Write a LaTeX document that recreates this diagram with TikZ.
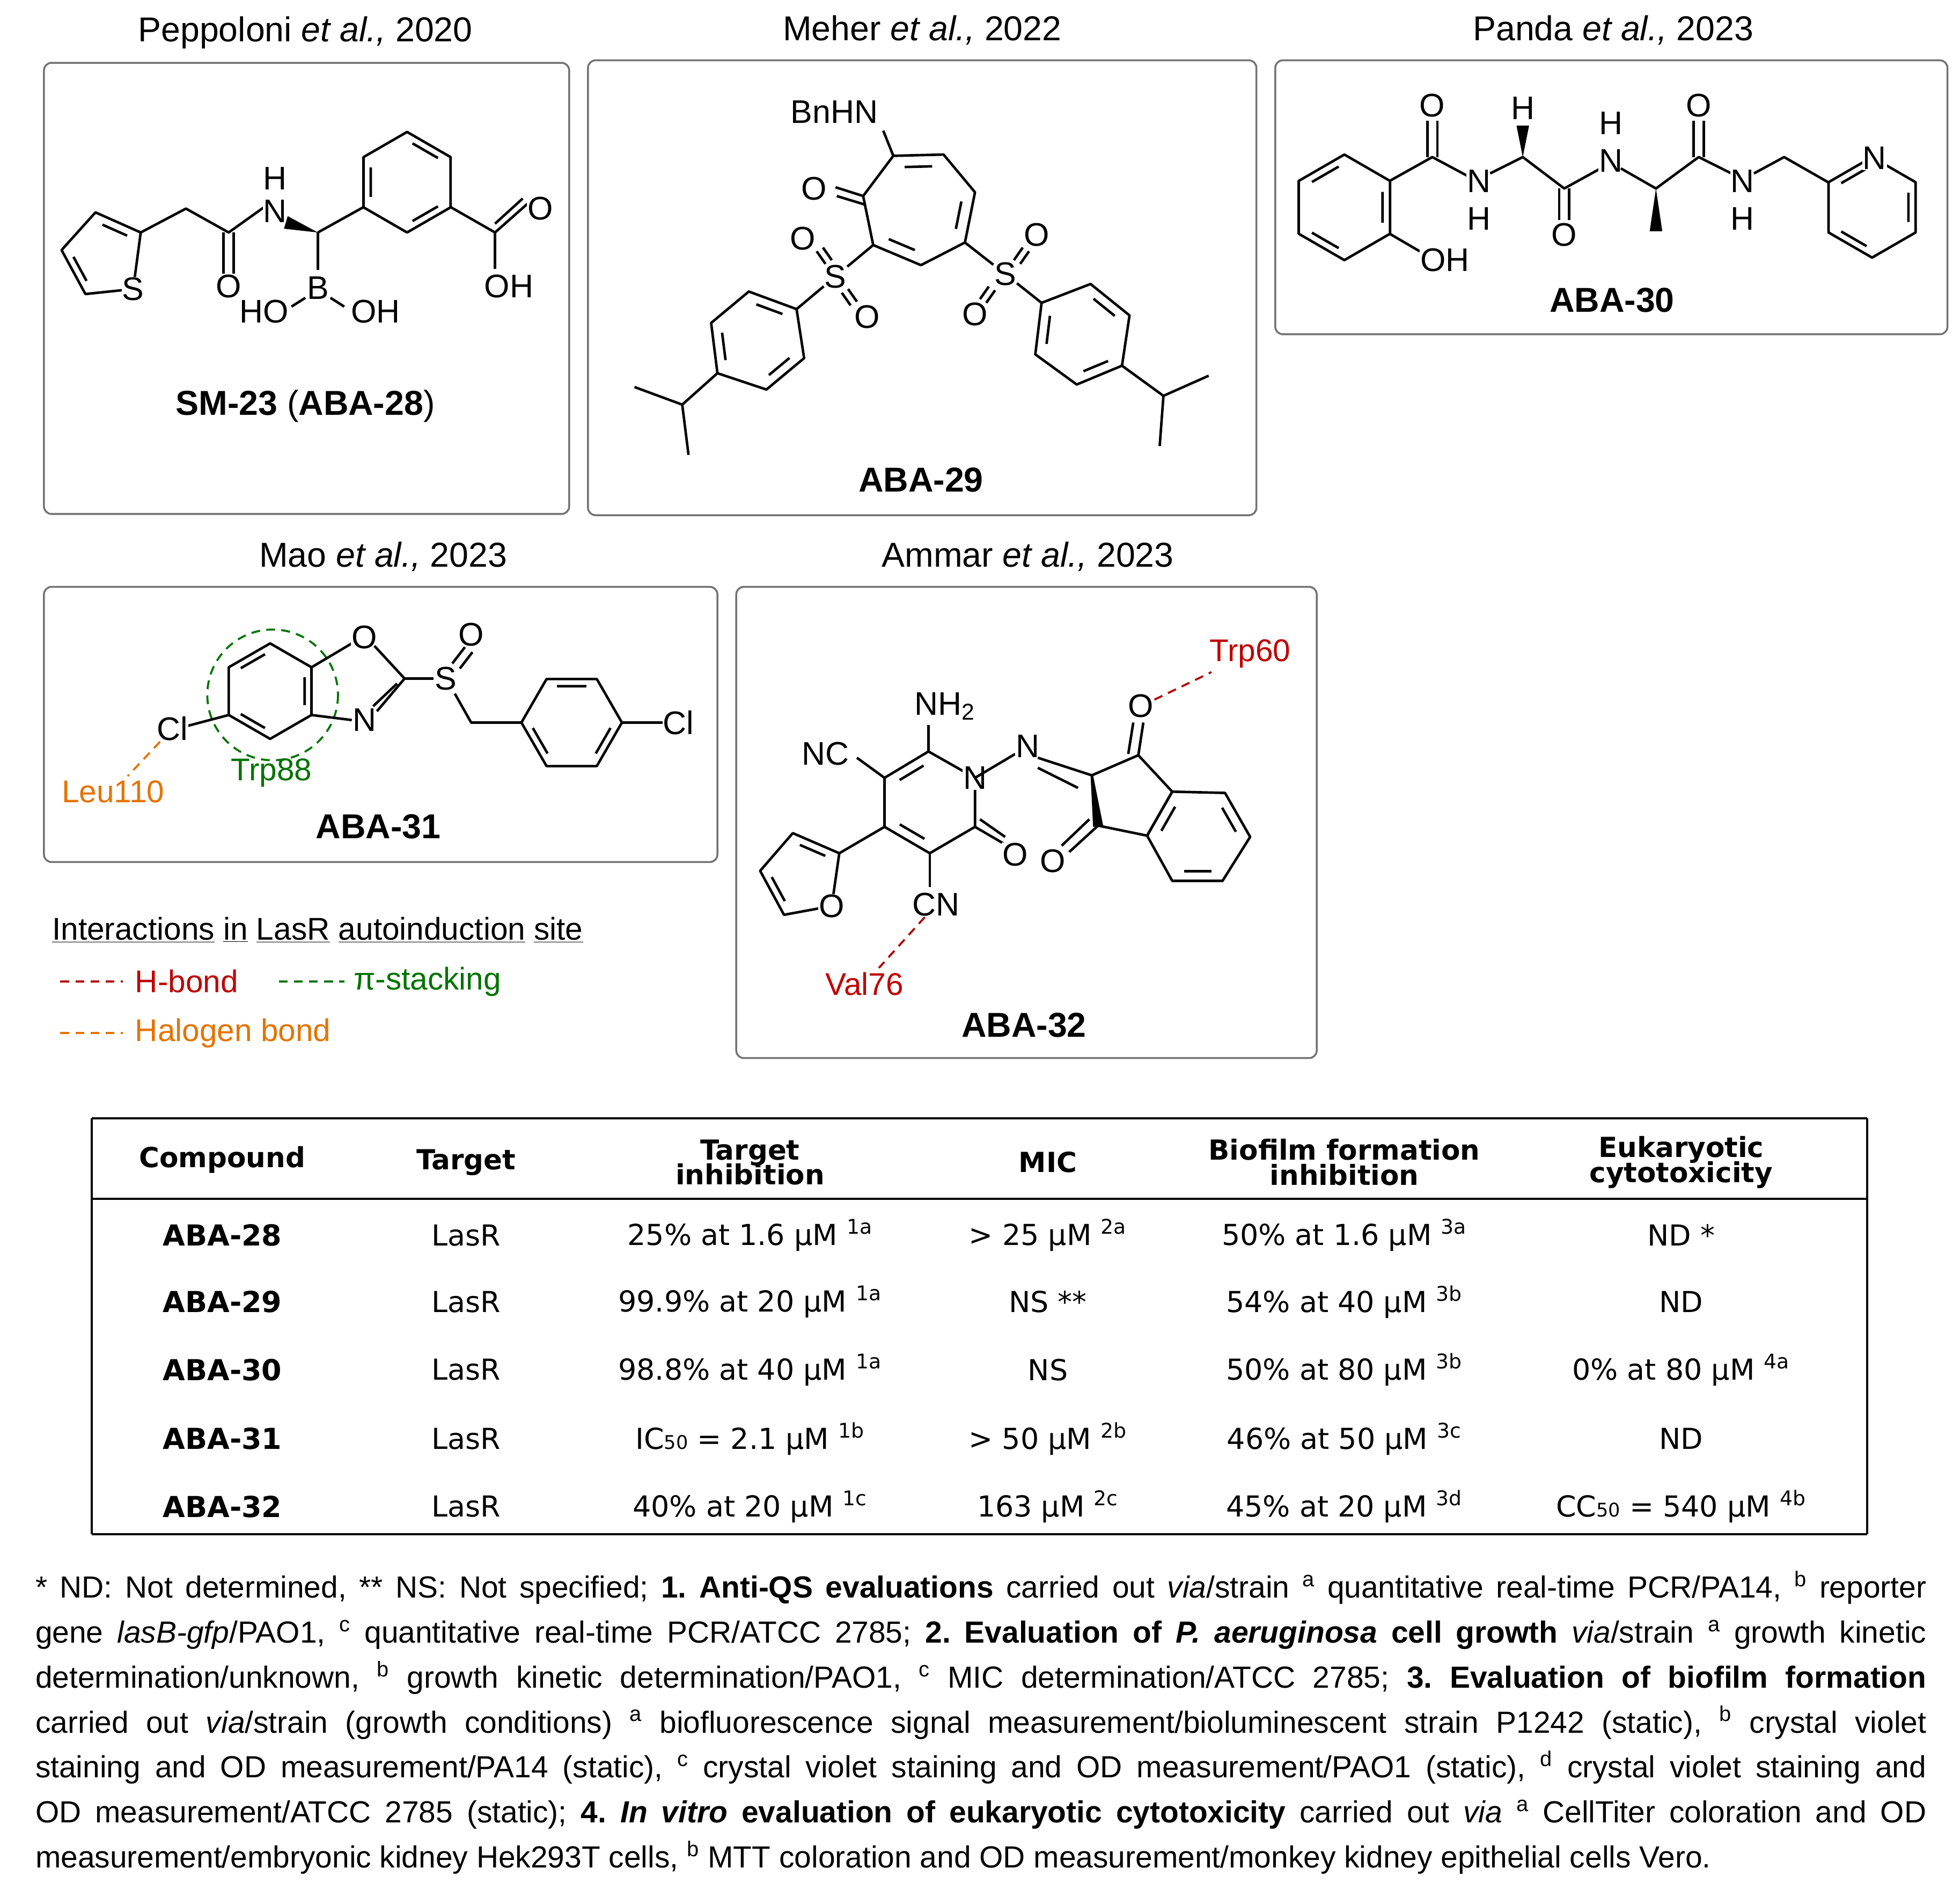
\documentclass[tikz,border=0pt]{standalone}
\usepackage{fontspec}
\setmainfont{Liberation Sans}
\newfontfamily\tabfont{DejaVu Sans}
\usetikzlibrary{calc}
\tikzset{
 box/.style={draw=black!55,line width=1.5pt,rounded corners=6pt},
 mol/.style={line width=2pt,line join=round},
 atm/.style={fill=white,inner sep=0.5pt,font=\fontsize{26}{28}\selectfont},
 ttl/.style={font=\fontsize{27.5}{30}\selectfont},
 lbl/.style={font=\fontsize{27.5}{30}\selectfont\bfseries},
 tab/.style={font=\tabfont\fontsize{23}{26}\selectfont},
 tabb/.style={font=\tabfont\bfseries\fontsize{23}{26}\selectfont},
 tabh/.style={font=\tabfont\bfseries\fontsize{22}{24}\selectfont,align=center},
 hb/.style={draw=red!70!black,dash pattern=on 7pt off 5pt,line width=1.6pt},
 hal/.style={draw=orange!90!black,dash pattern=on 7pt off 5pt,line width=1.6pt},
 pis/.style={draw=green!45!black,dash pattern=on 7pt off 5pt,line width=1.6pt},
 leg/.style={font=\fontsize{25}{28}\selectfont},
}
\newcommand\ring[5]{\draw[mol,shift={(#1,#2)}] (#5:#3) \foreach \i in {1,...,#4}{ -- ({#5+360/#4*\i}:#3)} -- cycle;}
\newcommand\benz[4]{\ring{#1}{#2}{#3}{6}{#4}
 \draw[mol,shift={(#1,#2)}] \foreach \i in {0,2,4}{({#4+60*\i+8}:{0.78*#3}) -- ({#4+60*\i+52}:{0.78*#3})};}
\newcommand\inner[3]{\draw[mol] ($(#1)!0.15!(#2)!0.22!(#3)$) -- ($(#2)!0.15!(#1)!0.22!(#3)$);}
\newcommand\sub[1]{{\fontsize{15}{15}\selectfont #1}}
\begin{document}
\begin{tikzpicture}[x=1pt,y=-1pt]
\useasboundingbox[fill=white] (0,0) rectangle (1560,1504);
% boxes and titles
\draw[box] (35,50) rectangle (453,409);
\draw[box] (468,48) rectangle (1000,410);
\draw[box] (1015,48) rectangle (1550,266);
\draw[box] (35,467) rectangle (571,686);
\draw[box] (586,467) rectangle (1048,842);
\node[ttl] (t1) at (243,26) {Peppoloni \textit{et al.,} 2020};
\node[ttl] (t2) at (734,24) {Meher \textit{et al.,} 2022};
\node[ttl] (t3) at (1284,24) {Panda \textit{et al.,} 2023};
\node[ttl] (t4) at (305,443) {Mao \textit{et al.,} 2023};
\node[ttl] (t5) at (818,443) {Ammar \textit{et al.,} 2023};

% ---- SM-23
\coordinate (tc2) at (112,185);\coordinate (tc3) at (76,169);\coordinate (tc4) at (49,199);
\coordinate (tc5) at (68,234);\coordinate (ts) at (106,230);\coordinate (tcen) at (82,205);
\draw[mol] (ts) -- (tc2) -- (tc3) -- (tc4) -- (tc5) -- (ts);
\inner{tc2}{tc3}{tcen}\inner{tc4}{tc5}{tcen}
\node[atm] (s1) at (ts) {S};
\draw[mol] (tc2) -- (148,166) -- (182,185) -- (210,165);
\draw[mol] (178,185) -- (178,218);\draw[mol] (186,185) -- (186,218);
\node[atm] (o1) at (182,228) {O};
\node[atm] (n1) at (219,168) {N};
\node[atm] (h1) at (219,142) {H};
\fill (229,172) -- (226,182) -- (253,185) -- cycle;
\draw[mol] (253,185) -- (289,165);
\draw[mol] (253,185) -- (253,215);
\node[atm] (b1) at (253,229) {B};
\draw[mol] (243,237) -- (232,244);
\draw[mol] (263,237) -- (274,244);
\node[atm] (ho1) at (210,248) {HO};
\node[atm] (oh1) at (299,248) {OH};
\benz{324}{145}{40}{30}
\draw[mol] (359,165) -- (394,185) -- (420,162);
\draw[mol] (394,178) -- (416,158);
\draw[mol] (394,185) -- (394,214);
\node[atm] (o2) at (430,166) {O};
\node[atm] (oh2) at (405,228) {OH};
\node[lbl] (l1) at (243,323) {SM-23 \textmd{(}ABA-28\textmd{)}};

% ---- ABA-29
\coordinate (r1) at (711,124);\coordinate (r2) at (751,123);\coordinate (r3) at (776,153);
\coordinate (r4) at (768,193);\coordinate (r5) at (733,211);\coordinate (r6) at (695,195);
\coordinate (r7) at (687,156);\coordinate (rc) at (731,165);
\draw[mol] (r1) -- (r2) -- (r3) -- (r4) -- (r5) -- (r6) -- (r7) -- cycle;
\inner{r1}{r2}{rc}\inner{r3}{r4}{rc}\inner{r5}{r6}{rc}
\node[atm] (bn) at (664,89) {BnHN};
\draw[mol] (r1) -- (703,104);
\draw[mol] (r7) -- (665,149);\draw[mol] (689,163) -- (666,156);
\node[atm] (o3) at (648,150) {O};
\node[atm] (sa) at (665,220) {S};
\node[atm] (sb) at (800,218) {S};
\draw[mol] (r6) -- (sa);\draw[mol] (r4) -- (sb);
\node[atm] (oa1) at (639,190) {O};\node[atm] (oa2) at (690,252) {O};
\node[atm] (ob1) at (825,187) {O};\node[atm] (ob2) at (776,250) {O};
\draw[mol] (650,200) -- (657,210);\draw[mol] (655,197) -- (662,207);
\draw[mol] (670,233) -- (677,243);\draw[mol] (675,230) -- (682,240);
\draw[mol] (807,207) -- (814,197);\draw[mol] (812,210) -- (819,200);
\draw[mol] (787,228) -- (780,238);\draw[mol] (792,231) -- (785,241);
\draw[mol] (sa) -- (634,246);\draw[mol] (sb) -- (829,241);
\coordinate (p1) at (634,246);\coordinate (p2) at (596,232);\coordinate (p3) at (566,257);
\coordinate (p4) at (571,297);\coordinate (p5) at (610,310);\coordinate (p6) at (640,285);\coordinate (pc) at (603,271);
\draw[mol] (p1) -- (p2) -- (p3) -- (p4) -- (p5) -- (p6) -- cycle;
\inner{p1}{p2}{pc}\inner{p3}{p4}{pc}\inner{p5}{p6}{pc}
\draw[mol] (p4) -- (543,322) -- (505,308);\draw[mol] (543,322) -- (548,362);
\coordinate (q1) at (829,241);\coordinate (q2) at (868,226);\coordinate (q3) at (899,251);
\coordinate (q4) at (893,291);\coordinate (q5) at (857,306);\coordinate (q6) at (824,282);\coordinate (qc) at (862,266);
\draw[mol] (q1) -- (q2) -- (q3) -- (q4) -- (q5) -- (q6) -- cycle;
\inner{q2}{q3}{qc}\inner{q4}{q5}{qc}\inner{q6}{q1}{qc}
\draw[mol] (q4) -- (926,315) -- (962,299);\draw[mol] (926,315) -- (923,355);
\node[lbl] (l2) at (733,382) {ABA-29};

% ---- ABA-30
\benz{1070}{165}{42}{-30}
\draw[mol] (1106,144) -- (1140,125) -- (1168,140);
\draw[mol] (1136,125) -- (1136,96);\draw[mol] (1144,125) -- (1144,96);
\node[atm] (o4) at (1140,84) {O};
\draw[mol] (1106,186) -- (1130,200);
\node[atm] (oh3) at (1150,207) {OH};
\node[atm] (n2) at (1177,144) {N};\node[atm] (h2) at (1177,174) {H};
\draw[mol] (1186,138) -- (1212,125) -- (1245,150) -- (1274,134);
\fill (1212,125) -- (1207,100) -- (1217,100) -- cycle;
\node[atm] (h3) at (1212,86) {H};
\draw[mol] (1241,150) -- (1241,175);\draw[mol] (1249,150) -- (1249,175);
\node[atm] (o5) at (1245,187) {O};
\node[atm] (n3) at (1282,128) {N};\node[atm] (h4) at (1282,98) {H};
\draw[mol] (1290,134) -- (1318,150) -- (1352,125) -- (1378,138);
\fill (1318,150) -- (1313,184) -- (1323,184) -- cycle;
\draw[mol] (1348,125) -- (1348,96);\draw[mol] (1356,125) -- (1356,96);
\node[atm] (o6) at (1352,84) {O};
\node[atm] (n4) at (1387,144) {N};\node[atm] (h5) at (1387,174) {H};
\draw[mol] (1396,138) -- (1420,125) -- (1455,145);
\benz{1490}{165}{40}{-30}
\node[atm] (n5) at (1492,126) {N};
\node[lbl] (l3) at (1283,239) {ABA-30};

% ---- ABA-31
\benz{215}{550}{38}{-30}
\draw[pis] (217,553) circle (52);
\draw[mol] (248,531) -- (280,512);
\draw[mol] (248,569) -- (280,573);
\node[atm] (o7) at (290,507) {O};
\node[atm] (n6) at (290,573) {N};
\draw[mol] (298,514) -- (322,540) -- (300,566);
\draw[mol] (316,544) -- (297,562);
\draw[mol] (322,540) -- (345,540);
\node[atm] (s2) at (355,540) {S};
\draw[mol] (360,528) -- (370,515);\draw[mol] (366,532) -- (376,519);
\node[atm] (o8) at (375,505) {O};
\draw[mol] (362,552) -- (375,575) -- (415,575);
\benz{455}{575}{40}{0}
\draw[mol] (495,575) -- (528,575);
\node[atm] (cl1) at (540,575) {Cl};
\draw[mol] (182,569) -- (148,578);
\node[atm] (cl2) at (137,580) {Cl};
\node[leg,text=orange!90!black] (leu) at (90,630) {Leu110};
\draw[hal] (cl2) -- (leu);
\node[leg,text=green!45!black] (trp88) at (216,615) {Trp88};
\node[lbl] (l4) at (301,658) {ABA-31};

% ---- ABA-32
\coordinate (y6) at (739,598);\coordinate (y1) at (776,619);\coordinate (y2) at (776,658);
\coordinate (y3) at (740,679);\coordinate (y4) at (704,658);\coordinate (y5) at (704,619);\coordinate (yc) at (740,638);
\draw[mol] (y6) -- (y1) -- (y2) -- (y3) -- (y4) -- (y5) -- cycle;
\inner{y5}{y6}{yc}\inner{y3}{y4}{yc}
\node[atm] (n7) at (y1) {N};
\draw[mol] (y6) -- (739,577);
\node[atm] (nh2) at (752,562) {NH\textsubscript{2}};
\draw[mol] (y5) -- (682,603);
\node[atm] (nc) at (657,600) {NC};
\draw[mol] (y2) -- (800,672);\draw[mol] (780,652) -- (800,666);
\node[atm] (o9) at (808,680) {O};
\draw[mol] (y3) -- (740,706);
\node[atm] (cn) at (745,720) {CN};
\coordinate (f2) at (668,679);\coordinate (f3) at (631,663);\coordinate (f4) at (605,693);
\coordinate (f5) at (624,728);\coordinate (fo) at (662,721);\coordinate (fc) at (637,697);
\draw[mol] (y4) -- (f2);
\draw[mol] (fo) -- (f2) -- (f3) -- (f4) -- (f5) -- (fo);
\inner{f2}{f3}{fc}\inner{f4}{f5}{fc}
\node[atm] (o10) at (fo) {O};
\draw[mol] (y1) -- (808,600);
\node[atm] (n8) at (818,594) {N};
\draw[mol] (826,603) -- (869,617);\draw[mol] (826,611) -- (858,627);
\coordinate (d2) at (869,617);\coordinate (d1) at (906,601);\coordinate (d7) at (933,630);
\coordinate (d3a) at (913,665);\coordinate (d3) at (874,657);
\draw[mol] (d2) -- (d1) -- (d7) -- (d3a) -- (d3);
\fill (868,617) -- (870,617) -- (878,657) -- (870,658) -- cycle;
\draw[mol] (906,601) -- (910,575);\draw[mol] (898,600) -- (902,575);
\node[atm] (o11) at (908,562) {O};
\draw[mol] (874,657) -- (851,678);\draw[mol] (867,652) -- (845,673);
\node[atm] (o12) at (838,685) {O};
\coordinate (e1) at (933,630);\coordinate (e2) at (975,631);\coordinate (e3) at (995,666);
\coordinate (e4) at (973,701);\coordinate (e5) at (933,701);\coordinate (e6) at (913,665);\coordinate (ec) at (954,666);
\draw[mol] (e1) -- (e2) -- (e3) -- (e4) -- (e5) -- (e6) -- cycle;
\inner{e2}{e3}{ec}\inner{e4}{e5}{ec}\inner{e6}{e1}{ec}
\node[leg,text=red!75!black] (trp60) at (995,520) {Trp60};
\draw[hb] (o11) -- (trp60);
\node[leg,text=red!75!black] (val) at (688,783) {Val76};
\draw[hb] (cn) -- (val);
\node[lbl] (l5) at (815,816) {ABA-32};

% ---- legend
\node[anchor=west,leg] (leg) at (38,740) {\underline{Interactions} \underline{in} \underline{LasR} \underline{autoinduction} \underline{site}};
\coordinate (a1) at (48,781);\coordinate (a2) at (98,781);
\draw[hb] (a1) -- (a2);
\node[anchor=west,leg,text=red!75!black] (lh) at (104,781) {H-bond};
\coordinate (b1) at (222,781);\coordinate (b2) at (274,781);
\draw[pis] (b1) -- (b2);
\node[anchor=west,leg,text=green!45!black] (lp) at (278,781) {π-stacking};
\coordinate (c1) at (48,822);\coordinate (c2) at (98,822);
\draw[hal] (c1) -- (c2);
\node[anchor=west,leg,text=orange!90!black] (lhal) at (104,822) {Halogen bond};

% ---- table
\draw[line width=1.8pt] (73,890) -- (1486,890);
\draw[line width=1.8pt] (73,954) -- (1486,954);
\draw[line width=1.8pt] (73,1221) -- (1486,1221);
\draw[line width=1.8pt] (73,890) -- (73,1221);
\draw[line width=1.8pt] (1486,890) -- (1486,1221);
\node[tabh] (h1c) at (177,923) {Compound};
\node[tabh] (h2c) at (371,925) {Target};
\node[tabh] (h3c) at (597,925) {Target\\[-4pt]inhibition};
\node[tabh] (h4c) at (834,925) {MIC};
\node[tabh] (h5c) at (1070,925) {Biofilm formation\\[-4pt]inhibition};
\node[tabh] (h6c) at (1338,925) {Eukaryotic\\[-4pt]cytotoxicity};
\foreach \yy/\cv/\tv/\mv/\fv/\ev in {
 983/ABA-28/{25\% at 1.6 µM \textsuperscript{1a}}/{> 25 µM \textsuperscript{2a}}/{50\% at 1.6 µM \textsuperscript{3a}}/{ND *},
 1036/ABA-29/{99.9\% at 20 µM \textsuperscript{1a}}/{NS **}/{54\% at 40 µM \textsuperscript{3b}}/{ND},
 1090/ABA-30/{98.8\% at 40 µM \textsuperscript{1a}}/{NS}/{50\% at 80 µM \textsuperscript{3b}}/{0\% at 80 µM \textsuperscript{4a}},
 1145/ABA-31/{IC\sub{50} = 2.1 µM \textsuperscript{1b}}/{> 50 µM \textsuperscript{2b}}/{46\% at 50 µM \textsuperscript{3c}}/{ND},
 1199/ABA-32/{40\% at 20 µM \textsuperscript{1c}}/{163 µM \textsuperscript{2c}}/{45\% at 20 µM \textsuperscript{3d}}/{CC\sub{50} = 540 µM \textsuperscript{4b}}}{
 \node[tabb] at (177,\yy) {\cv};
 \node[tab] at (371,\yy) {LasR};
 \node[tab] at (597,\yy) {\tv};
 \node[tab] at (834,\yy) {\mv};
 \node[tab] at (1070,\yy) {\fv};
 \node[tab] at (1338,\yy) {\ev};
}

% ---- footnote
\node[anchor=north west,inner sep=0pt] (fn) at (28,1250) {\parbox{1505pt}{\fontsize{24.3}{35.8}\selectfont\frenchspacing\emergencystretch=3em
* ND: Not determined, ** NS: Not specified; \textbf{1. Anti-QS evaluations} carried out \textit{via}/strain \textsuperscript{a} quantitative real-time PCR/PA14, \textsuperscript{b} reporter\linebreak
gene \textit{lasB-gfp}/PAO1, \textsuperscript{c} quantitative real-time PCR/ATCC 2785; \textbf{2. Evaluation of \textit{P. aeruginosa} cell growth} \textit{via}/strain \textsuperscript{a} growth kinetic\linebreak
determination/unknown, \textsuperscript{b} growth kinetic determination/PAO1, \textsuperscript{c} MIC determination/ATCC 2785; \textbf{3. Evaluation of biofilm formation}\linebreak
carried out \textit{via}/strain (growth conditions) \textsuperscript{a} biofluorescence signal measurement/bioluminescent strain P1242 (static), \textsuperscript{b} crystal violet\linebreak
staining and OD measurement/PA14 (static), \textsuperscript{c} crystal violet staining and OD measurement/PAO1 (static), \textsuperscript{d} crystal violet staining and\linebreak
OD measurement/ATCC 2785 (static); \textbf{4. \textit{In vitro} evaluation of eukaryotic cytotoxicity} carried out \textit{via} \textsuperscript{a} CellTiter coloration and OD\linebreak
measurement/embryonic kidney Hek293T cells, \textsuperscript{b} MTT coloration and OD measurement/monkey kidney epithelial cells Vero.}};
\end{tikzpicture}
\end{document}
